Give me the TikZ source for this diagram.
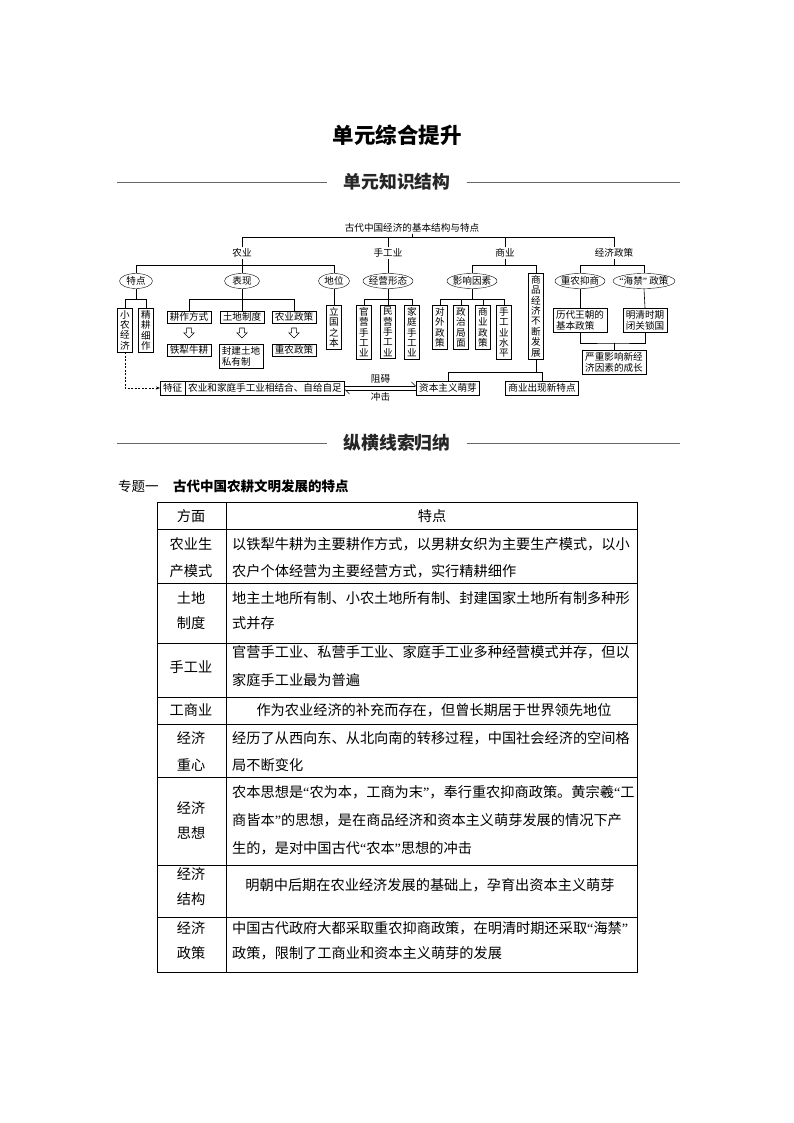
\documentclass[tikz,border=0pt]{standalone}
\usepackage{fontspec}
\setmainfont{Noto Sans CJK SC}
\newfontfamily\qf{Liberation Serif}
\usetikzlibrary{shapes.geometric,arrows.meta}
\newcommand\myoq{{\qf “}}
\newcommand\mycq{{\qf ”}}
\begin{document}
\begin{tikzpicture}[x=1pt,y=-1pt,
  dfont/.style={font=\fontsize{9.6}{10.4}\selectfont},
  lab/.style={dfont, inner sep=1pt},
  ell/.style={dfont, draw, ellipse, inner xsep=-12pt, inner ysep=-4pt, minimum height=15pt},
  vbox/.style={dfont, draw, align=center, inner xsep=2.6pt, inner ysep=2pt, anchor=north},
  hbox/.style={dfont, draw, inner xsep=2.8pt, inner ysep=1.6pt},
  mbox/.style={draw, align=left, inner xsep=3pt, inner ysep=2pt, anchor=north, font=\fontsize{9.6}{11.5}\selectfont},
  hollowdown/.pic={\draw[line width=0.6pt, line join=miter] (-2.4,0) -- (2.4,0) -- (2.4,4.8) -- (5.2,4.8) -- (0,10) -- (-5.2,4.8) -- (-2.4,4.8) -- cycle;},
  ln/.style={line width=0.6pt},
  tcell/.style={font=\fontsize{14.2}{26.5}\selectfont, inner sep=0pt},
  tline/.style={line width=0.9pt},
  secline/.style={line width=0.8pt, black!60},
]
\fill[white] (0,0) rectangle (794,1123);
\useasboundingbox (0,0) rectangle (794,1123);

% ---------- headings ----------
\node[font=\fontsize{21.5}{21.5}\selectfont\bfseries] (title) at (397,135) {单元综合提升};
\node[font=\fontsize{17.8}{17.8}\selectfont\bfseries, text=black!85] (s1) at (397,182) {单元知识结构};
\draw[secline] (117,182) -- ([xshift=-13pt]s1.west);
\draw[secline] ([xshift=13pt]s1.east) -- (680,182);
\node[font=\fontsize{17.8}{17.8}\selectfont\bfseries, text=black!85] (s2) at (397,443) {纵横线索归纳};
\draw[secline] (117,443) -- ([xshift=-13pt]s2.west);
\draw[secline] ([xshift=13pt]s2.east) -- (680,443);

% ---------- diagram ----------
\node[lab] (root) at (412,228) {古代中国经济的基本结构与特点};
\node[lab] (n1) at (242,253) {农业};
\node[lab] (n2) at (388,253) {手工业};
\node[lab] (n3) at (505,253) {商业};
\node[lab] (n4) at (614,253) {经济政策};

\node[ell, minimum width=33pt] (e11) at (136,281) {特点};
\node[ell, minimum width=35pt] (e12) at (242,281) {表现};
\node[ell, minimum width=31pt] (e13) at (334,281) {地位};
\node[ell, minimum width=50pt] (e21) at (388,281) {经营形态};
\node[ell, minimum width=50pt] (e31) at (472,281) {影响因素};
\node[ell, minimum width=50pt] (e41) at (580,281) {重农抑商};
\node[ell, minimum width=62pt] (e42) at (644,281) {\myoq 海禁\mycq\ 政策};
\node[vbox] (sp) at (536,273) {商\\品\\经\\济\\不\\断\\发\\展};

\node[vbox] (xn) at (125,308) {小\\农\\经\\济};
\node[vbox] (jg) at (146,308) {精\\耕\\细\\作};
\node[hbox, anchor=north] (gz) at (189,311) {耕作方式};
\node[hbox, anchor=north] (td) at (242,311) {土地制度};
\node[hbox, anchor=north] (ny) at (294,311) {农业政策};
\node[vbox] (lg) at (334,305) {立\\国\\之\\本};
\node[vbox] (gy) at (364,305) {官\\营\\手\\工\\业};
\node[vbox] (my) at (388,305) {民\\营\\手\\工\\业};
\node[vbox] (jt) at (412,305) {家\\庭\\手\\工\\业};
\node[vbox] (dw) at (440,305) {对\\外\\政\\策};
\node[vbox] (zz) at (461,305) {政\\治\\局\\面};
\node[vbox] (sy) at (483,305) {商\\业\\政\\策};
\node[vbox] (sg) at (504,305) {手\\工\\业\\水\\平};

\node[hbox, anchor=north] (tl) at (189,344) {铁犁牛耕};
\node[mbox] (fj) at (241,344) {封建土地\\私有制};
\node[hbox, anchor=north] (zn) at (294,344) {重农政策};

\pic at (189,328) {hollowdown};
\pic at (242,328) {hollowdown};
\pic at (294,328) {hollowdown};

\node[mbox] (lz) at (580,308) {历代王朝的\\基本政策};
\node[mbox] (mq) at (645,308) {明清时期\\闭关锁国};
\node[mbox] (yz) at (614,350) {严重影响新经\\济因素的成长};

\node[hbox, minimum height=14pt, anchor=west] (tz1) at (160,388) {特征};
\node[hbox, minimum height=14pt, anchor=west] (tz2) at (tz1.east) {农业和家庭手工业相结合、自给自足};
\node[hbox, minimum height=14pt] (zb) at (448,388) {资本主义萌芽};
\node[hbox, minimum height=14pt] (xs) at (542,388) {商业出现新特点};

\coordinate (L1) at (0,237);
\coordinate (L2) at (0,265);
\coordinate (L3) at (0,299);
\coordinate (L4) at (0,372);
\coordinate (j) at (614,343);

\begin{scope}[ln]
\draw (root.south) -- (root.south |- L1);
\draw (n1.north) -- (n1.north |- L1) -- (n4.north |- L1) -- (n4.north);
\draw (n2.north) -- (n2.north |- L1);
\draw (n3.north) -- (n3.north |- L1);

\draw (n1.south) -- (n1.south |- L2);
\draw (e11.north) -- (e11.north |- L2) -- (e13.north |- L2) -- (e13.north);
\draw (e12.north) -- (e12.north |- L2);
\draw (n2.south) -- (e21.north);
\draw (n3.south) -- (n3.south |- L2);
\draw (e31.north) -- (e31.north |- L2) -- (sp.north |- L2) -- (sp.north);
\draw (n4.south) -- (n4.south |- L2);
\draw (e41.north) -- (e41.north |- L2) -- (e42.north |- L2) -- (e42.north);

\draw (e11.south) -- (e11.south |- L3);
\draw (xn.north) -- (xn.north |- L3) -- (jg.north |- L3) -- (jg.north);
\draw (e12.south) -- (e12.south |- L3);
\draw (gz.north) -- (gz.north |- L3) -- (ny.north |- L3) -- (ny.north);
\draw (td.north) -- (td.north |- L3);
\draw (e13.south) -- (lg.north);
\draw (e21.south) -- (e21.south |- L3);
\draw (gy.north) -- (gy.north |- L3) -- (jt.north |- L3) -- (jt.north);
\draw (my.north) -- (my.north |- L3);
\draw (e31.south) -- (e31.south |- L3);
\draw (dw.north) -- (dw.north |- L3) -- (sg.north |- L3) -- (sg.north);
\draw (zz.north) -- (zz.north |- L3);
\draw (sy.north) -- (sy.north |- L3);

\draw (e41.south) -- (lz.north);
\draw (e42.south) -- (mq.north);
\draw (lz.south) |- (j) -| (mq.south);
\draw (j) -- (yz.north);

\draw (sp.south) -- (sp.south |- L4);
\draw (zb.north) -- (zb.north |- L4) -- (xs.north |- L4) -- (xs.north);

\draw[dash pattern=on 2pt off 1.5pt, -{Stealth[length=4pt,width=3pt]}] (xn.south) |- (tz1.west);
\draw[-{Straight Barb[harpoon,length=4pt]}] ([yshift=2pt]tz2.east) -- node[lab, above=1pt] (zh) {阻碍} ([yshift=2pt]zb.west);
\draw[-{Straight Barb[harpoon,length=4pt]}] ([yshift=-2pt]zb.west) -- node[lab, below=1pt] (cj) {冲击} ([yshift=-2pt]tz2.east);
\end{scope}

% ---------- topic ----------
\node[font=\fontsize{13.5}{13.5}\selectfont, anchor=west, inner sep=0pt] (zt) at (118,486) {专题一};
\node[font=\fontsize{13.5}{13.5}\selectfont\bfseries, anchor=west, inner sep=0pt] (zt2) at (173,486) {古代中国农耕文明发展的特点};

% ---------- table ----------
\draw[tline] (157,502) rectangle (637,972);
\draw[tline] (226,502) -- (226,972);
\foreach \yy in {529,583,643,697,724,777,865,917} \draw[tline] (157,\yy) -- (637,\yy);

\node[tcell] (h1) at (191,516) {方面};
\node[tcell] (h2) at (432,516) {特点};

\node[tcell, align=center, font=\fontsize{14.2}{27}\selectfont] (l1) at (191,557.5) {农业生\\产模式};
\node[tcell, align=left, anchor=west, font=\fontsize{14.2}{27}\selectfont] (r1) at (232,557.5) {以铁犁牛耕为主要耕作方式，以男耕女织为主要生产模式，以小\\农户个体经营为主要经营方式，实行精耕细作};

\node[tcell, align=center, font=\fontsize{14.2}{25}\selectfont] (l2) at (191,610.5) {土地\\制度};
\node[tcell, align=left, anchor=west, font=\fontsize{14.2}{25}\selectfont] (r2) at (232,610.5) {地主土地所有制、小农土地所有制、封建国家土地所有制多种形\\式并存};

\node[tcell] (l3) at (191,667) {手工业};
\node[tcell, align=left, anchor=west, font=\fontsize{14.2}{28}\selectfont] (r3) at (232,666) {官营手工业、私营手工业、家庭手工业多种经营模式并存，但以\\家庭手工业最为普遍};

\node[tcell] (l4) at (191,710) {工商业};
\node[tcell] (r4) at (434,710) {作为农业经济的补充而存在，但曾长期居于世界领先地位};

\node[tcell, align=center, font=\fontsize{14.2}{27}\selectfont] (l5) at (191,751.5) {经济\\重心};
\node[tcell, align=left, anchor=west, font=\fontsize{14.2}{27}\selectfont] (r5) at (232,751.5) {经历了从西向东、从北向南的转移过程，中国社会经济的空间格\\局不断变化};

\node[tcell, align=center, font=\fontsize{14.2}{25}\selectfont] (l6) at (191,820.5) {经济\\思想};
\node[tcell, align=left, anchor=west, font=\fontsize{14.2}{28}\selectfont] (r6) at (232,820) {农本思想是\myoq 农为本，工商为末\mycq ，奉行重农抑商政策。黄宗羲\myoq 工\\商皆本\mycq 的思想，是在商品经济和资本主义萌芽发展的情况下产\\生的，是对中国古代\myoq 农本\mycq 思想的冲击};

\node[tcell, align=center, font=\fontsize{14.2}{25}\selectfont] (l7) at (191,886.5) {经济\\结构};
\node[tcell] (r7) at (430,885) {明朝中后期在农业经济发展的基础上，孕育出资本主义萌芽};

\node[tcell, align=center, font=\fontsize{14.2}{25}\selectfont] (l8) at (191,940.5) {经济\\政策};
\node[tcell, align=left, anchor=west, font=\fontsize{14.2}{25}\selectfont] (r8) at (232,940.5) {中国古代政府大都采取重农抑商政策，在明清时期还采取\myoq 海禁\mycq\\政策，限制了工商业和资本主义萌芽的发展};
\end{tikzpicture}
\end{document}
